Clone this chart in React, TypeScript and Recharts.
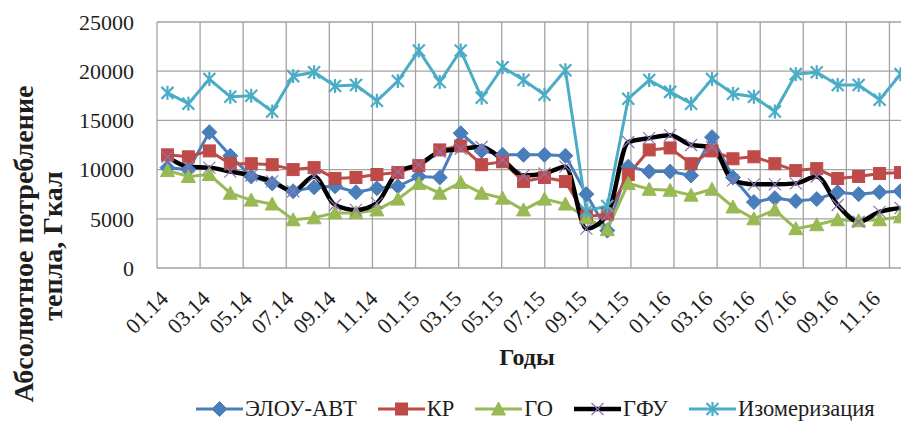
import {
  CartesianGrid,
  Legend,
  Line,
  LineChart,
  XAxis,
  YAxis,
} from "recharts";

const FONT = "'Liberation Serif', 'Times New Roman', serif";
const TEXT_COLOR = "#1e1e1e";

const MONTHS = [
  "01.14", "02.14", "03.14", "04.14", "05.14", "06.14",
  "07.14", "08.14", "09.14", "10.14", "11.14", "12.14",
  "01.15", "02.15", "03.15", "04.15", "05.15", "06.15",
  "07.15", "08.15", "09.15", "10.15", "11.15", "12.15",
  "01.16", "02.16", "03.16", "04.16", "05.16", "06.16",
  "07.16", "08.16", "09.16", "10.16", "11.16", "12.16",
];

const ELOU_AVT = [
  10200, 10000, 13800, 11400, 9300, 8600, 7800, 8200, 8300, 7700, 8100, 8300,
  9300, 9200, 13700, 11900, 11500, 11500, 11500, 11400, 7500, 3800, 10300, 9800,
  9800, 9400, 13300, 9200, 6700, 7100, 6800, 7000, 7700, 7500, 7700, 7800,
];

const KR = [
  11500, 11300, 11900, 10600, 10600, 10500, 10000, 10200, 9100, 9200, 9500, 9700,
  10400, 12000, 12400, 10500, 10800, 8800, 9200, 8800, 5200, 5500, 9500, 12000,
  12200, 10600, 11900, 11100, 11300, 10600, 9900, 10100, 9100, 9300, 9600, 9700,
];

const GO = [
  9900, 9300, 9500, 7600, 6900, 6500, 4900, 5100, 5600, 5600, 5900, 7000,
  8600, 7600, 8700, 7600, 7100, 5900, 7000, 6500, 5100, 3900, 8600, 8000,
  7900, 7400, 8000, 6200, 5000, 5900, 4000, 4400, 4900, 4800, 4900, 5200,
];

const GFU = [
  11300, 10300, 10200, 9800, 9400, 8800, 7800, 9300, 6400, 5900, 6600, 9800,
  10500, 11800, 12100, 12300, 11000, 9400, 9600, 10300, 4000, 5400, 12800, 13200,
  13500, 12500, 12300, 8900, 8500, 8500, 8600, 9300, 6400, 4700, 5700, 6100,
];

const ISOMERIZATION = [
  17800, 16700, 19200, 17400, 17500, 15900, 19500, 19900, 18500, 18600, 17000, 19000,
  22100, 18900, 22100, 17300, 20400, 19100, 17600, 20100, 5800, 6300, 17200, 19100,
  17900, 16700, 19200, 17700, 17400, 15900, 19700, 19900, 18600, 18600, 17100, 19700,
];

const Y_TICKS = [0, 5000, 10000, 15000, 20000, 25000];

type MarkerShape = "diamond" | "square" | "triangle" | "cross" | "star";

type SeriesDef = {
  key: string;
  name: string;
  color: string;
  markerColor: string;
  width: number;
  marker: MarkerShape;
  smooth: boolean;
};

const SERIES: SeriesDef[] = [
  { key: "elou", name: "ЭЛОУ-АВТ", color: "#4a7ebb", markerColor: "#4a7ebb", width: 3, marker: "diamond", smooth: false },
  { key: "kr", name: "КР", color: "#be4b48", markerColor: "#be4b48", width: 3, marker: "square", smooth: false },
  { key: "go", name: "ГО", color: "#98b954", markerColor: "#98b954", width: 3, marker: "triangle", smooth: false },
  { key: "gfu", name: "ГФУ", color: "#000000", markerColor: "#8d74b6", width: 4.5, marker: "cross", smooth: true },
  { key: "iso", name: "Изомеризация", color: "#4bacc6", markerColor: "#4bacc6", width: 3, marker: "star", smooth: false },
];

const chartData = MONTHS.map((month, i) => ({
  month,
  elou: ELOU_AVT[i],
  kr: KR[i],
  go: GO[i],
  gfu: GFU[i],
  iso: ISOMERIZATION[i],
}));

// vertical grid lines sit between every second month (Excel style)
const GRID_TICKS = Array.from({ length: MONTHS.length / 2 + 1 }, (_, k) => k * 2);

function Marker({ shape, cx, cy, color }: { shape: MarkerShape; cx: number; cy: number; color: string }) {
  if (shape === "diamond") {
    return (
      <polygon
        points={`${cx},${cy - 7.5} ${cx + 7.5},${cy} ${cx},${cy + 7.5} ${cx - 7.5},${cy}`}
        fill={color}
        stroke={color}
      />
    );
  }
  if (shape === "square") {
    return <rect x={cx - 6} y={cy - 6} width={12} height={12} fill={color} stroke={color} />;
  }
  if (shape === "triangle") {
    return (
      <polygon
        points={`${cx},${cy - 7} ${cx + 7},${cy + 6} ${cx - 7},${cy + 6}`}
        fill={color}
        stroke={color}
      />
    );
  }
  if (shape === "cross") {
    return (
      <g stroke={color} strokeWidth={1.2}>
        <line x1={cx - 6} y1={cy - 6} x2={cx + 6} y2={cy + 6} />
        <line x1={cx - 6} y1={cy + 6} x2={cx + 6} y2={cy - 6} />
      </g>
    );
  }
  return (
    <g stroke={color} strokeWidth={2.2}>
      <line x1={cx - 6} y1={cy - 6} x2={cx + 6} y2={cy + 6} />
      <line x1={cx - 6} y1={cy + 6} x2={cx + 6} y2={cy - 6} />
      <line x1={cx} y1={cy - 7} x2={cx} y2={cy + 7} />
    </g>
  );
}

function MonthTick(props: any) {
  const { x, y, payload } = props;
  const ax = x + 2;
  const ay = y + 32;
  return (
    <text
      x={ax}
      y={ay}
      transform={`rotate(-45 ${ax} ${ay})`}
      textAnchor="end"
      fontFamily={FONT}
      fontSize={22}
      fill={TEXT_COLOR}
    >
      {payload.value}
    </text>
  );
}

function YTitle() {
  const style = { fontFamily: FONT, fontSize: 28, fontWeight: 700, fill: TEXT_COLOR };
  return (
    <g>
      <text x={33} y={244} transform="rotate(-90 33 244)" textAnchor="middle" style={style}>
        Абсолютное потребление
      </text>
      <text x={62} y={246} transform="rotate(-90 62 246)" textAnchor="middle" style={style}>
        тепла, Гкал
      </text>
    </g>
  );
}

function XTitle() {
  return (
    <text
      x={527}
      y={365}
      textAnchor="middle"
      fontFamily={FONT}
      fontSize={24}
      fontWeight={700}
      fill={TEXT_COLOR}
    >
      Годы
    </text>
  );
}

function LegendContent() {
  return (
    <div
      style={{
        display: "flex",
        alignItems: "center",
        gap: 21,
        fontFamily: FONT,
        fontSize: 22.5,
        color: TEXT_COLOR,
        whiteSpace: "nowrap",
      }}
    >
      {SERIES.map((s) => (
        <div key={s.key} style={{ display: "flex", alignItems: "center" }}>
          <svg width={47} height={20}>
            <line x1={0} y1={10} x2={47} y2={10} stroke={s.color} strokeWidth={s.width} />
            <Marker shape={s.marker} cx={23.5} cy={10} color={s.markerColor} />
          </svg>
          <span style={{ marginLeft: 2 }}>{s.name}</span>
        </div>
      ))}
    </div>
  );
}

export default function App() {
  return (
    <div
      style={{
        position: "fixed",
        left: 0,
        top: 0,
        width: 901,
        height: 425,
        overflow: "hidden",
        background: "#ffffff",
      }}
    >
      <LineChart
        width={930}
        height={425}
        data={chartData}
        margin={{ top: 22, right: 19, bottom: 57, left: 0 }}
      >
        <CartesianGrid
          xAxisId="grid"
          stroke="#a3a3a3"
          strokeWidth={1.3}
        />
        <XAxis
          xAxisId="grid"
          type="number"
          domain={[0, MONTHS.length]}
          ticks={GRID_TICKS}
          hide
        />
        <XAxis
          dataKey="month"
          scale="band"
          interval={1}
          height={60}
          tickLine={false}
          axisLine={false}
          tickSize={0}
          tickMargin={0}
          tick={<MonthTick />}
          label={<XTitle />}
        />
        <YAxis
          width={157}
          domain={[0, 25000]}
          ticks={Y_TICKS}
          axisLine={false}
          tickLine={false}
          tickSize={0}
          tickMargin={23}
          tick={{ fontFamily: FONT, fontSize: 22, fill: TEXT_COLOR }}
          label={<YTitle />}
        />
        <Legend
          verticalAlign="bottom"
          height={40}
          content={<LegendContent />}
          wrapperStyle={{ left: 196, top: 396, width: "auto" }}
        />
        {SERIES.map((s) => (
          <Line
            key={s.key}
            dataKey={s.key}
            name={s.name}
            type={s.smooth ? "monotone" : "linear"}
            stroke={s.color}
            strokeWidth={s.width}
            isAnimationActive={false}
            dot={(p: any) => (
              <Marker key={`${s.key}-${p.index}`} shape={s.marker} cx={p.cx} cy={p.cy} color={s.markerColor} />
            )}
            activeDot={false}
          />
        ))}
      </LineChart>
    </div>
  );
}
